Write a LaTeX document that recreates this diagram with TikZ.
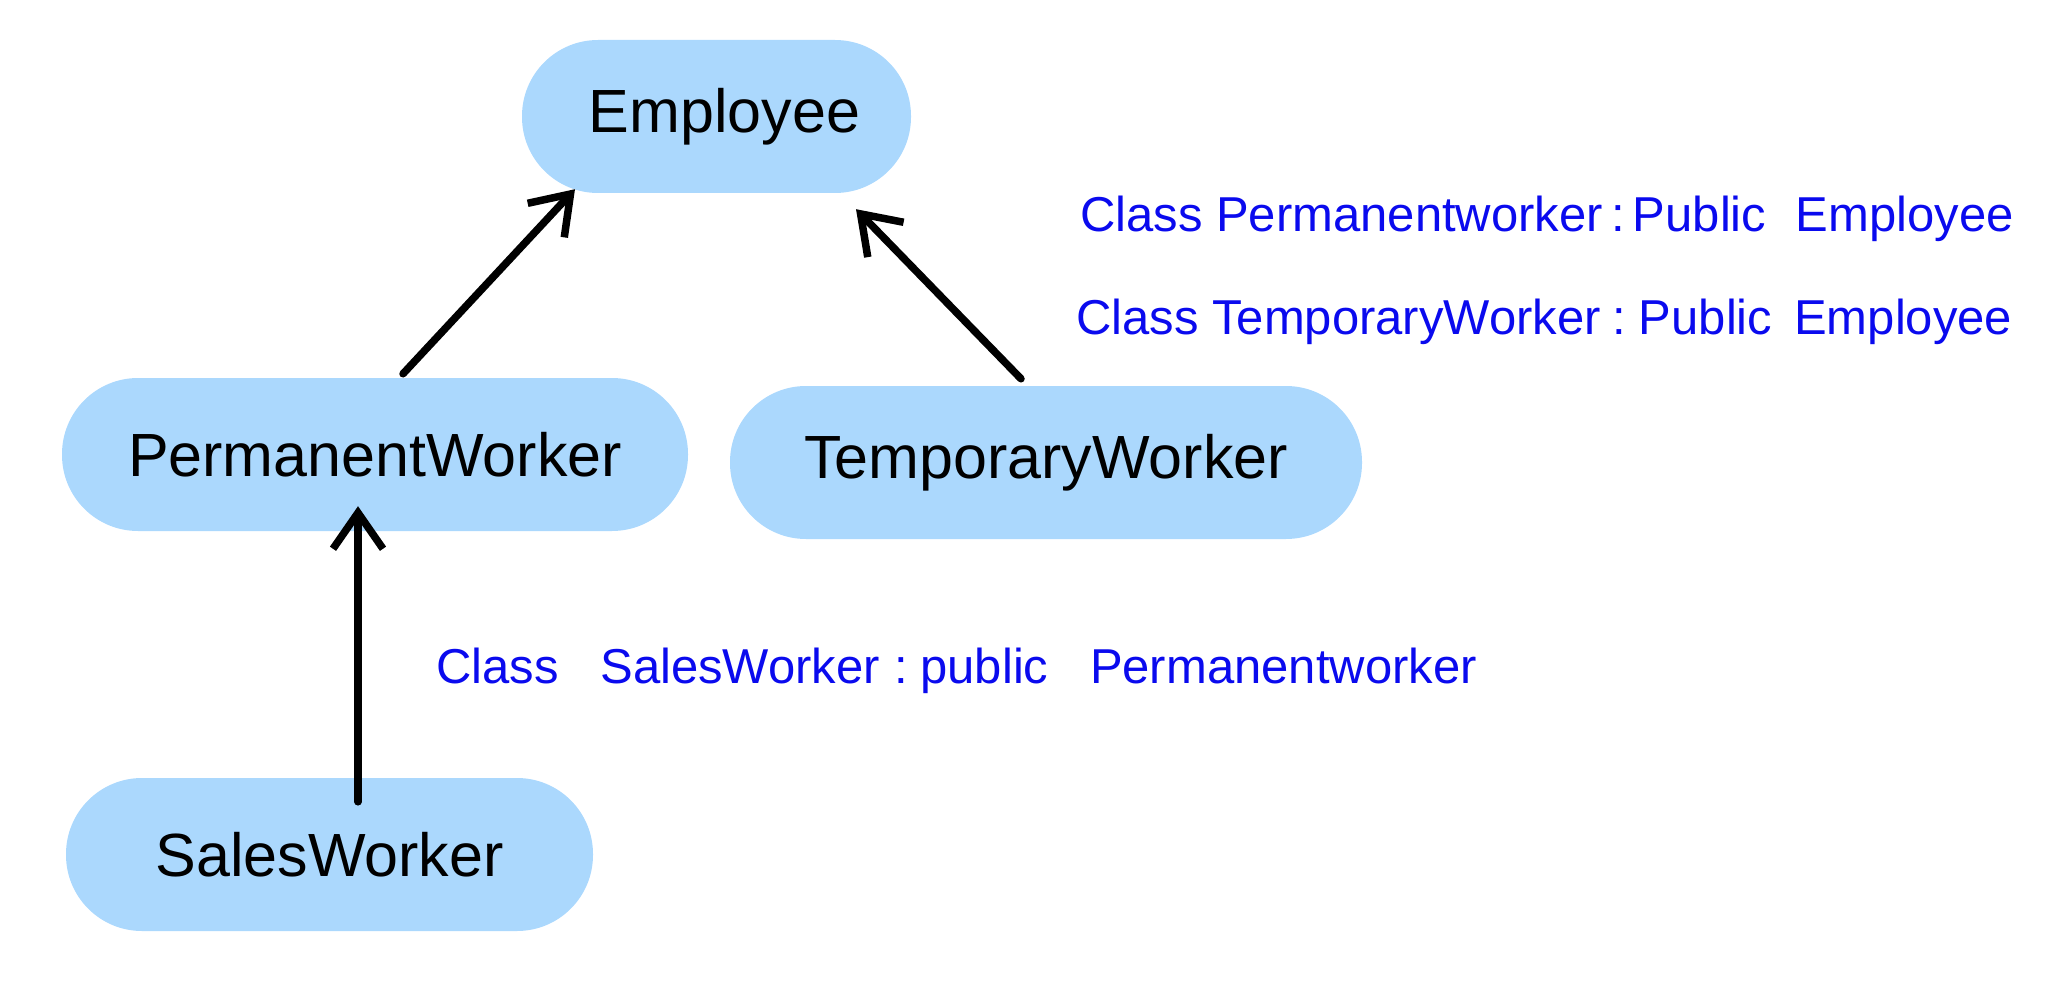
\documentclass[tikz,border=0pt]{standalone}
\usepackage{fontspec}
\setmainfont{Liberation Sans}
\usetikzlibrary{arrows.meta,positioning}
\definecolor{boxfill}{HTML}{ABD8FD}
\definecolor{penblue}{HTML}{0A0AEE}
\tikzset{
  cls/.style={fill=boxfill, draw=none, rounded corners=76pt, minimum height=153pt,
    inner sep=0pt, font=\fontsize{61}{66}\selectfont},
  inherit/.style={line width=7.5pt, line cap=round, line join=round,
    -{Straight Barb[length=36pt,width=50pt,line width=7.5pt]}},
  note/.style={text=penblue, anchor=base west, inner sep=0pt,
    font=\fontsize{49}{53}\selectfont}
}
\begin{document}
\begin{tikzpicture}[x=1pt,y=-1pt]
\useasboundingbox (0,0) rectangle (2071,1000);
\node[cls, minimum width=389pt] (emp) at (716.5,116.5) {\hspace{16pt}Employee};
\node[cls, minimum width=626pt] (perm) at (375,454.5) {PermanentWorker};
\node[cls, minimum width=632pt] (temp) at (1046,462.5) {TemporaryWorker};
\node[cls, minimum width=527pt] (sales) at (329.5,854.5) {SalesWorker};

\coordinate (p1) at ([xshift=28pt,yshift=4pt]perm.north);
\coordinate (e1) at ([xshift=-141.5pt,yshift=4pt]emp.south);
\coordinate (t1) at ([xshift=-25pt,yshift=7pt]temp.north);
\coordinate (e2) at ([xshift=139.5pt,yshift=-16pt]emp.south);
\coordinate (s1) at ([xshift=28.5pt,yshift=-24pt]sales.north);
\coordinate (p2) at ([xshift=-17pt,yshift=25pt]perm.south);

\draw[inherit] (p1) -- (e1);
\draw[inherit] (t1) -- (e2);
\draw[inherit] (s1) -- (p2);

\node[note] (n1) at (1080,232) {Class Permanentworker\,:\,Public\hspace{0.6em}Employee};
\node[note] (n2) at (1076,334) {Class TemporaryWorker\hspace{0.25em}:\hspace{0.25em}Public\hspace{0.45em}Employee};
\node[note] (n3) at (436,683) {Class\hspace{0.85em}SalesWorker\hspace{0.3em}:\hspace{0.25em}public\hspace{0.85em}Permanentworker};
\end{tikzpicture}
\end{document}
